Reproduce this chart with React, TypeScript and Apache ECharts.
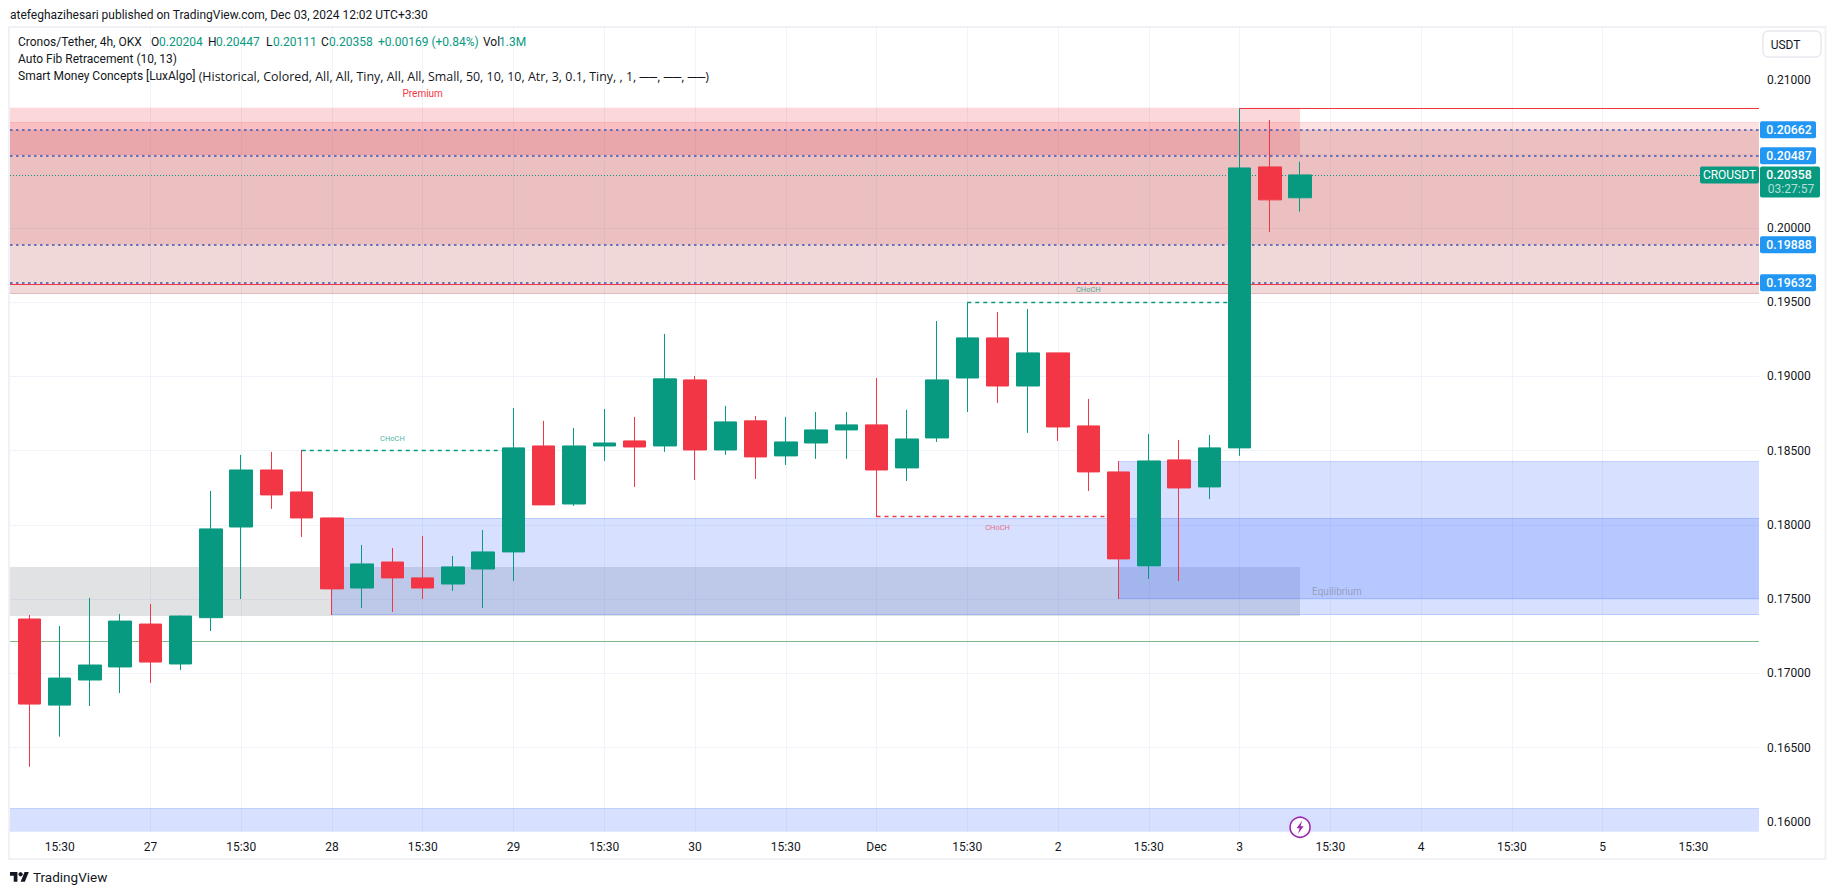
import React, { useEffect, useRef } from "react";
import * as echarts from "echarts";

// open, close, low, high per 4h bar
const opens = [0.17366,0.16786,0.16955,0.17043,0.17332,0.17063,0.17375,0.17986,0.18370,0.18222,0.18047,0.17575,0.17750,0.17643,0.17602,0.17703,0.17818,0.18532,0.18141,0.18532,0.18566,0.18532,0.18977,0.18505,0.18701,0.18465,0.18552,0.18640,0.18674,0.18384,0.18586,0.18990,0.19260,0.18936,0.19159,0.18667,0.18357,0.17724,0.18438,0.18256,0.18519,0.20412,0.20204];
const closes = [0.16793,0.16968,0.17056,0.17352,0.17076,0.17386,0.17973,0.18370,0.18202,0.18047,0.17569,0.17737,0.17643,0.17575,0.17717,0.17818,0.18519,0.18135,0.18532,0.18552,0.18525,0.18984,0.18505,0.18694,0.18458,0.18559,0.18640,0.18674,0.18370,0.18579,0.18977,0.19260,0.18936,0.19159,0.18660,0.18357,0.17771,0.18431,0.18249,0.18519,0.20405,0.20190,0.20358];
const lows = [0.16371,0.16573,0.16780,0.16867,0.16935,0.17022,0.17285,0.17501,0.18108,0.17919,0.17393,0.17441,0.17414,0.17501,0.17555,0.17441,0.17622,0.18135,0.18128,0.18431,0.18256,0.18492,0.18303,0.18472,0.18310,0.18404,0.18445,0.18445,0.18054,0.18296,0.18559,0.18761,0.18822,0.18620,0.18566,0.18229,0.17501,0.17636,0.17622,0.18175,0.18465,0.19973,0.20111];
const highs = [0.17393,0.17319,0.17508,0.17400,0.17467,0.17390,0.18229,0.18472,0.18492,0.18505,0.18047,0.17865,0.17845,0.17926,0.17791,0.17966,0.18788,0.18701,0.18653,0.18781,0.18728,0.19287,0.19004,0.18802,0.18734,0.18728,0.18761,0.18761,0.18990,0.18775,0.19374,0.19500,0.19435,0.19455,0.19159,0.18849,0.18431,0.18613,0.18573,0.18606,0.20807,0.20729,0.20447];

const xTickValues = [1,4,7,10,13,16,19,22,25,28,31,34,37,40,43,46,49,52,55];
const xTickLabels = ["15:30","27","15:30","28","15:30","29","15:30","30","15:30","Dec","15:30","2","15:30","3","15:30","4","15:30","5","15:30"];
const yGridValues = [0.16,0.165,0.17,0.175,0.18,0.185,0.19,0.195,0.2,0.205,0.21];
const yLabelValues = [0.16,0.165,0.17,0.175,0.18,0.185,0.19,0.195,0.2,0.21];

const fibLevels = [0.20662,0.20487,0.19888,0.19632];
const lastPrice = 0.20358;
const xMin = -0.643;
const xMax = 57.17;
const yMin = 0.15933;
const yMax = 0.21348;
const premiumZone = [0.2081,0.20493];
const pinkZone = [0.20713,0.19561];
const greyFibZone = [0.20662,0.19561];
const fibFill = [0.20662,0.19888];
const equilibriumZone = [0.17716,0.17387];
const demandA = [0.18045,0.17395];
const demandB = [0.18428,0.17503];
const demandC = [0.1609,yMin];
const zoneEndBar = 42;
const demandAStart = 10;
const demandBStart = 36;
const highLine = 0.20807;
const highLineStart = 40;
const lowLine = 0.19623;
const supportLine = 0.17216;
const choch = [
  { from: 9, to: 16, price: 0.18505, label: 0.18584, at: 12, up: true },
  { from: 31, to: 40, price: 0.195, label: 0.19588, at: 35, up: true },
  { from: 28, to: 36, price: 0.18058, label: 0.17984, at: 32, up: false },
];

const UP = "#089981";
const DOWN = "#f23645";
const BLUE = "#2196f3";
const FONT = "Roboto";
const INK = "#131722";

echarts.graphic.registerShape(
  "tvlogo",
  echarts.graphic.extendPath("M14 22H7V11H0V4h14v18zM28 22h-8l7.5-18h8L28 22z", {})
);

const band = (x0: number, x1: number, yr: number[], color: string) => [
  { coord: [x0, yr[0]], itemStyle: { color } },
  { coord: [x1, yr[1]] },
];
const seg = (x0: number, x1: number, y: number, color: string, width: number, type: any) => [
  { coord: [x0, y], lineStyle: { color, width, type, opacity: 1 } },
  { coord: [x1, y] },
];

export default function App() {
  const ref = useRef<HTMLDivElement>(null);
  useEffect(() => {
    document.body.style.margin = "0";
    document.body.style.overflow = "hidden";
    const chart = echarts.init(ref.current!, null, { renderer: "svg" });
    const candleData = opens.map((o, i) => [i, o, closes[i], lows[i], highs[i]]);
    const edge = "rgba(41,98,255,0.22)";
    const option: any = {
      animation: false,
      backgroundColor: "#ffffff",
      grid: { left: 10, right: 76, top: 28, bottom: 63.3 },
      xAxis: {
        type: "value",
        min: xMin,
        max: xMax,
        axisLine: { show: false },
        axisTick: { show: false, customValues: xTickValues },
        splitLine: { show: true, showMinLine: false, showMaxLine: false, lineStyle: { color: "#f0f3fa", width: 1 } },
        axisLabel: {
          customValues: xTickValues,
          margin: 9,
          color: INK,
          fontFamily: FONT,
          fontSize: 12,
          showMinLabel: true,
          showMaxLabel: true,
          formatter: (v: number) => xTickLabels[xTickValues.indexOf(v)] ?? "",
        },
      },
      yAxis: {
        type: "value",
        position: "right",
        min: yMin,
        max: yMax,
        scale: true,
        axisLine: { show: false },
        axisTick: { show: false, customValues: yGridValues },
        splitLine: { show: true, showMinLine: false, showMaxLine: false, lineStyle: { color: "#f0f3fa", width: 1 } },
        axisLabel: {
          customValues: yLabelValues,
          margin: 8,
          color: INK,
          fontFamily: FONT,
          fontSize: 12,
          formatter: (v: number) => v.toFixed(5),
        },
      },
      series: [
        {
          type: "line",
          data: [],
          z: 1,
          silent: true,
          markArea: {
            silent: true,
            data: [
              band(xMin, zoneEndBar, premiumZone, "rgba(242,54,69,0.2)"),
              band(xMin, xMax, pinkZone, "rgba(242,54,69,0.15)"),
              band(xMin, xMax, greyFibZone, "rgba(128,128,128,0.1)"),
              band(xMin, xMax, fibFill, "rgba(219,96,104,0.2)"),
              band(xMin, zoneEndBar, equilibriumZone, "rgba(120,123,134,0.22)"),
              band(demandAStart, xMax, demandA, "rgba(41,98,255,0.19)"),
              band(demandBStart, xMax, demandB, "rgba(41,98,255,0.19)"),
              band(xMin, xMax, demandC, "rgba(41,98,255,0.19)"),
            ],
          },
        },
        {
          type: "line",
          data: [],
          z: 2,
          silent: true,
          markLine: {
            silent: true,
            symbol: "none",
            label: { show: false },
            data: [
              seg(xMin, xMax, pinkZone[0], "rgba(242,54,69,0.12)", 1, "solid"),
              seg(xMin, xMax, pinkZone[1], "rgba(170,60,70,0.32)", 1, "solid"),
              seg(demandAStart, xMax, demandA[0], edge, 1, "solid"),
              seg(demandAStart, xMax, demandA[1], edge, 1, "solid"),
              seg(demandBStart, xMax, demandB[0], edge, 1, "solid"),
              seg(demandBStart, xMax, demandB[1], edge, 1, "solid"),
              seg(xMin, xMax, demandC[0], edge, 1, "solid"),
              seg(xMin, xMax, supportLine, "#81b98a", 1, "solid"),
              seg(xMin, xMax, lowLine, DOWN, 1, "solid"),
              seg(highLineStart, xMax, highLine, DOWN, 1, "solid"),
              ...fibLevels.map((v) => seg(xMin, xMax, v, "rgba(80,100,180,0.85)", 2, [2.5, 3.5])),
              seg(xMin, xMax, lastPrice, UP, 1, [1, 2]),
              ...choch.map((c) => seg(c.from, c.to, c.price, c.up ? UP : DOWN, 1.3, [4, 4])),
            ],
          },
        },
        {
          type: "candlestick",
          z: 5,
          barWidth: 23,
          encode: { x: 0, y: [1, 2, 3, 4] },
          data: candleData,
          itemStyle: { color: UP, color0: DOWN, borderColor: UP, borderColor0: DOWN, borderWidth: 1 },
        },
      ],
    };
    chart.setOption(option);

    const py = (p: number) => chart.convertToPixel({ yAxisIndex: 0 }, p) as number;
    const px = (i: number) => chart.convertToPixel({ xAxisIndex: 0 }, i) as number;
    const txt = (text: string, x: number, y: number, fill: string, size = 12, align = "left", weight: any = "normal", family = FONT) => ({
      type: "text",
      silent: true,
      z: 50,
      style: { text, x, y, fill, font: `${weight} ${size}px "${family}"`, textAlign: align, textVerticalAlign: "middle" },
    });
    const box = (x: number, y: number, width: number, height: number, fill: string) => ({
      type: "rect",
      silent: true,
      z: 45,
      shape: { x, y, width, height, r: 2 },
      style: { fill },
    });
    const badge = fibLevels.flatMap((v) => {
      const y = py(v);
      return [box(1760, y - 8.5, 56, 17, BLUE), txt(v.toFixed(5), 1789, y + 0.5, "#ffffff", 12.3, "center", 500)];
    });
    const yLast = py(lastPrice);
    const headerRuns: [string, number, string][] = [
      ["Cronos/Tether, 4h, OKX", 18, INK],
      ["O", 151, INK], ["0.20204", 159, UP],
      ["H", 208, INK], ["0.20447", 216, UP],
      ["L", 266, INK], ["0.20111", 273, UP],
      ["C", 321, INK], ["0.20358", 329, UP],
      ["+0.00169 (+0.84%)", 378, UP],
      ["Vol", 483, INK], ["1.3M", 499, UP],
    ];
    const iconX = px(42);
    const iconY = py(0.15963);
    chart.setOption({
      graphic: [
        {
          type: "rect",
          silent: true,
          z: 40,
          shape: { x: 9, y: 27, width: 1816.5, height: 832 },
          style: { fill: "none", stroke: "#eff1f6", lineWidth: 2 },
        },
        txt("atefeghazihesari published on TradingView.com, Dec 03, 2024 12:02 UTC+3:30", 10, 15, INK),
        ...headerRuns.map(([t, x, c]) => txt(t, x, 42, c)),
        txt("Auto Fib Retracement (10, 13)", 18, 59, INK),
        txt("Smart Money Concepts [LuxAlgo]", 18, 76, INK),
        txt("(Historical, Colored, All, All, Tiny, All, All, Small, 50, 10, 10, Atr, 3, 0.1, Tiny, , 1, ──, ──, ──)", 198.7, 76, INK, 12.45, "left", "normal", "Open Sans"),
        txt("Premium", 422.7, 93, DOWN, 10, "center"),
        txt("Equilibrium", 1337, 591.7, "rgba(120,123,134,0.55)", 10, "center"),
        ...choch.map((c) =>
          txt("CHoCH", px(c.at), py(c.label), c.up ? "rgba(8,153,129,0.75)" : "rgba(242,54,69,0.7)", 7.5, "center")
        ),
        ...badge,
        box(1700, yLast - 8.5, 59, 17, UP),
        txt("CROUSDT", 1729.5, yLast + 0.5, "#ffffff", 12, "center"),
        box(1760, yLast - 8.5, 60, 31, UP),
        txt(lastPrice.toFixed(5), 1789, yLast + 0.5, "#ffffff", 12.3, "center", 500),
        txt("03:27:57", 1791, yLast + 14, "rgba(255,255,255,0.7)", 12, "center"),
        {
          type: "rect",
          silent: true,
          z: 45,
          shape: { x: 1763, y: 31, width: 58, height: 26, r: 5 },
          style: { fill: "#ffffff", stroke: "#e7e9f0", lineWidth: 1.5 },
        },
        txt("USDT", 1785.6, 44.5, INK, 12, "center"),
        {
          type: "circle",
          silent: true,
          z: 46,
          shape: { cx: iconX, cy: iconY, r: 10 },
          style: { fill: "#ffffff", stroke: "#9c27b0", lineWidth: 1.6 },
        },
        {
          type: "polygon",
          silent: true,
          z: 47,
          x: iconX,
          y: iconY,
          shape: { points: [[2, -6.5], [-3.5, 1], [-0.5, 1], [-2, 6.5], [3.5, -1], [0.5, -1]] },
          style: { fill: "#9c27b0" },
        },
        {
          type: "tvlogo",
          silent: true,
          z: 47,
          x: 10,
          y: 870,
          scaleX: 0.53,
          scaleY: 0.53,
          style: { fill: INK },
        },
        {
          type: "circle",
          silent: true,
          z: 47,
          shape: { cx: 10 + 20 * 0.53, cy: 870 + 8 * 0.53, r: 4 * 0.53 },
          style: { fill: INK },
        },
        txt("TradingView", 33, 877, INK, 13.5, "left", "normal"),
      ],
    });
    return () => chart.dispose();
  }, []);
  return <div ref={ref} style={{ width: 1835, height: 895 }} />;
}
